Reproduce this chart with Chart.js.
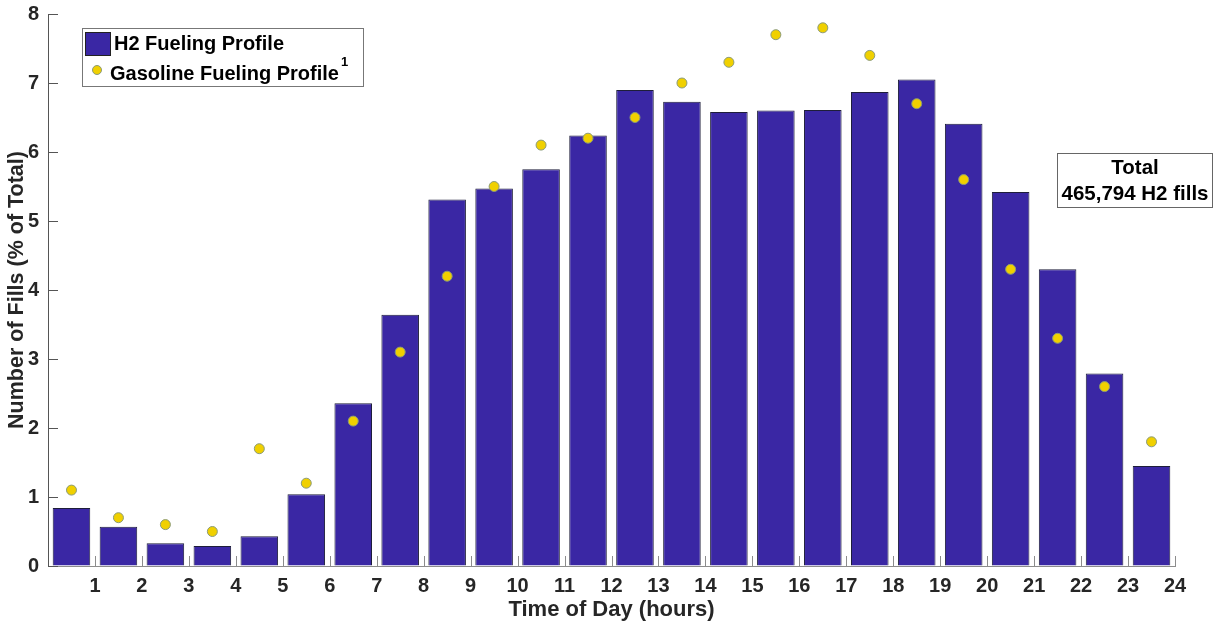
<!DOCTYPE html>
<html>
<head>
<meta charset="utf-8">
<script src="https://cdn.jsdelivr.net/npm/chart.js@4/dist/chart.umd.min.js"></script>
<style>
  html, body { margin: 0; padding: 0; background: #fff; }
  #wrap { width: 1214px; height: 626px; }
</style>
</head>
<body>
<div id="wrap"><canvas id="fuelChart" width="1214" height="626"></canvas></div>
<script>
// hour mid-points (bars sit between the integer hour ticks)
const hours = [0.5, 1.5, 2.5, 3.5, 4.5, 5.5, 6.5, 7.5, 8.5, 9.5, 10.5, 11.5,
               12.5, 13.5, 14.5, 15.5, 16.5, 17.5, 18.5, 19.5, 20.5, 21.5, 22.5, 23.5];
// share of fills per hour, % of total
const h2Profile = [0.84, 0.57, 0.33, 0.29, 0.43, 1.04, 2.36, 3.64, 5.31, 5.47, 5.75, 6.24,
                   6.90, 6.73, 6.58, 6.60, 6.61, 6.87, 7.05, 6.41, 5.42, 4.30, 2.79, 1.45];
const gasolineProfile = [1.1, 0.7, 0.6, 0.5, 1.7, 1.2, 2.1, 3.1, 4.2, 5.5, 6.1, 6.2,
                         6.5, 7.0, 7.3, 7.7, 7.8, 7.4, 6.7, 5.6, 4.3, 3.3, 2.6, 1.8];
const xTicks = [1, 2, 3, 4, 5, 6, 7, 8, 9, 10, 11, 12, 13, 14, 15, 16, 17, 18, 19, 20, 21, 22, 23, 24];
const yTicks = [0, 1, 2, 3, 4, 5, 6, 7, 8];
const totalFills = '465,794';

const barColor = '#3a27a4';
const dotColor = '#f0d000';
const textColor = '#262626';
const fontFamily = '"Liberation Sans", Arial, sans-serif';

// matlab style: ticks point into the plot, plus the legend and the total box
const decorations = {
    id: 'decorations',
    afterDraw(chart) {
        const ctx = chart.ctx;
        const x = chart.scales.x, y = chart.scales.y;
        const area = chart.chartArea;
        ctx.save();
        ctx.lineWidth = 1;

        ctx.strokeStyle = '#8c8c8c';
        xTicks.forEach(t => {
            const px = Math.round(x.getPixelForValue(t)) + 0.5;
            ctx.beginPath();
            ctx.moveTo(px, area.bottom);
            ctx.lineTo(px, area.bottom - 10);
            ctx.stroke();
        });
        ctx.strokeStyle = '#555';
        yTicks.forEach(t => {
            const py = Math.round(y.getPixelForValue(t)) + 0.5;
            ctx.beginPath();
            ctx.moveTo(area.left, py);
            ctx.lineTo(area.left + 10, py);
            ctx.stroke();
        });

        // legend
        ctx.fillStyle = '#fff';
        ctx.fillRect(82.5, 28.5, 281, 58);
        ctx.strokeStyle = '#777';
        ctx.strokeRect(82.5, 28.5, 281, 58);
        ctx.fillStyle = barColor;
        ctx.fillRect(85, 32, 26, 24);
        ctx.strokeStyle = '#222';
        ctx.strokeRect(85.5, 32.5, 25, 23);
        ctx.beginPath();
        ctx.arc(97, 70, 4.5, 0, Math.PI * 2);
        ctx.fillStyle = dotColor;
        ctx.fill();
        ctx.strokeStyle = '#8a9a7a';
        ctx.stroke();

        ctx.fillStyle = '#000';
        ctx.textBaseline = 'middle';
        ctx.textAlign = 'left';
        ctx.font = 'bold 20px ' + fontFamily;
        ctx.fillText('H2 Fueling Profile', 114, 44);
        ctx.fillText('Gasoline Fueling Profile', 110, 74);
        const w = ctx.measureText('Gasoline Fueling Profile').width;
        ctx.font = 'bold 13px ' + fontFamily;
        ctx.fillText('1', 110 + w + 2, 62);

        // total annotation
        ctx.fillStyle = '#fff';
        ctx.fillRect(1057.5, 153.5, 155, 54);
        ctx.strokeStyle = '#666';
        ctx.strokeRect(1057.5, 153.5, 155, 54);
        ctx.fillStyle = '#000';
        ctx.textAlign = 'center';
        ctx.font = 'bold 20.5px ' + fontFamily;
        ctx.fillText('Total', 1135, 168);
        ctx.fillText(totalFills + ' H2 fills', 1135, 194);
        ctx.restore();
    }
};

const ctx = document.getElementById('fuelChart').getContext('2d');
const fuelChart = new Chart(ctx, {
    type: 'bar',
    data: {
        datasets: [{
            type: 'line',
            label: 'Gasoline Fueling Profile',
            data: hours.map((h, i) => ({ x: h, y: gasolineProfile[i] })),
            showLine: false,
            pointRadius: 5,
            pointBackgroundColor: dotColor,
            pointBorderColor: '#8a9a7a',
            pointBorderWidth: 1,
            order: 0
        }, {
            label: 'H2 Fueling Profile',
            data: hours.map((h, i) => ({ x: h, y: h2Profile[i] })),
            backgroundColor: barColor,
            borderColor: '#1e1e3a',
            borderWidth: 1,
            barPercentage: 0.8,
            categoryPercentage: 1,
            order: 1
        }]
    },
    options: {
        responsive: false,
        animation: false,
        layout: { padding: { top: 14, right: 39, left: 0, bottom: 0 } },
        plugins: {
            legend: { display: false },
            tooltip: { enabled: false }
        },
        scales: {
            x: {
                type: 'linear',
                min: 0,
                max: 24,
                offset: false,
                afterFit: s => { s.height = 60; },
                grid: { display: true, color: 'rgba(0,0,0,0)', drawTicks: false, offset: false },
                border: { display: true, color: '#8c8c8c', width: 1 },
                ticks: {
                    stepSize: 1,
                    padding: 8,
                    color: textColor,
                    font: { family: fontFamily, size: 20, weight: 'bold' },
                    callback: v => (v === 0 ? '' : v)
                },
                title: {
                    display: true,
                    text: 'Time of Day (hours)',
                    color: textColor,
                    padding: { top: 0, bottom: 3 },
                    font: { family: fontFamily, size: 22, weight: 'bold' }
                }
            },
            y: {
                min: 0,
                max: 8,
                afterFit: s => { s.width = 48; s.paddingTop = 0; s.paddingBottom = 0; },
                grid: { display: true, color: 'rgba(0,0,0,0)', drawTicks: false },
                border: { display: true, color: '#555', width: 1 },
                ticks: {
                    stepSize: 1,
                    padding: 9,
                    color: textColor,
                    font: { family: fontFamily, size: 20, weight: 'bold' }
                },
                title: {
                    display: true,
                    text: 'Number of Fills (% of Total)',
                    color: textColor,
                    padding: { top: 4, bottom: 0 },
                    font: { family: fontFamily, size: 21.5, weight: 'bold' }
                }
            }
        }
    },
    plugins: [decorations]
});
</script>
</body>
</html>
